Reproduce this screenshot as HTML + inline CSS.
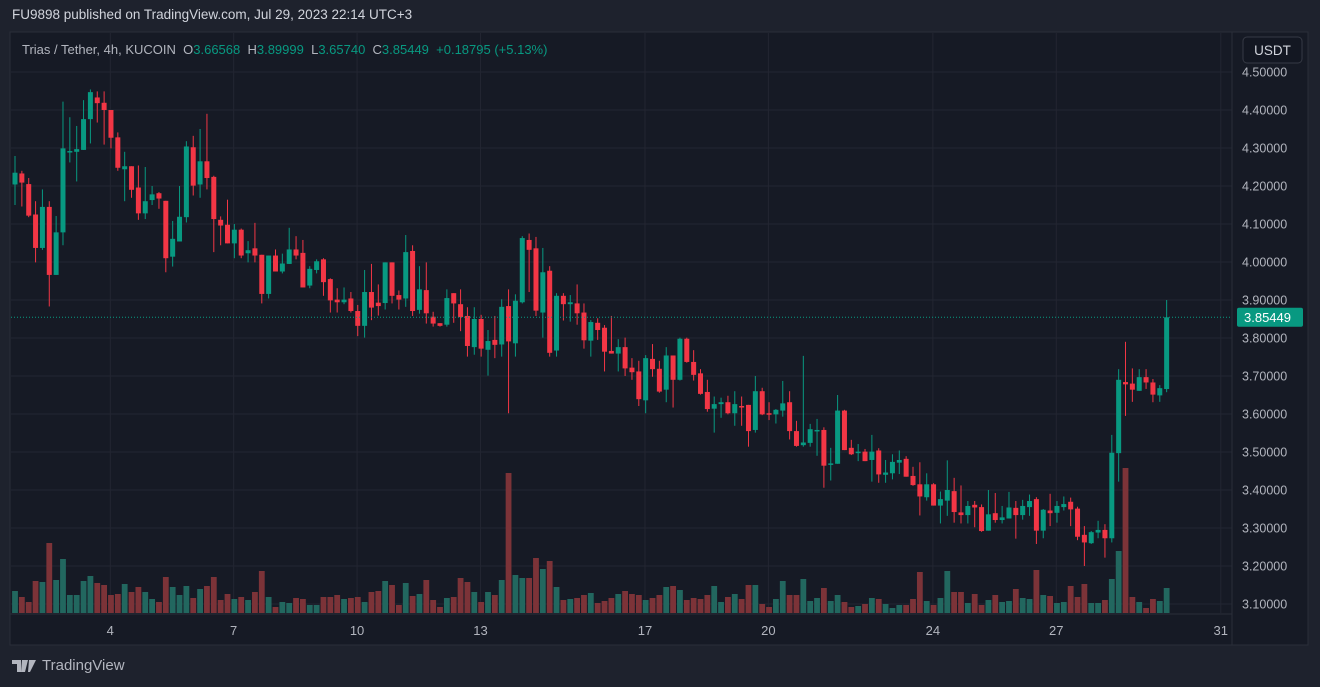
<!DOCTYPE html>
<html><head><meta charset="utf-8">
<style>
html,body{margin:0;padding:0;background:#1e222d;width:1320px;height:687px;overflow:hidden;font-family:"Liberation Sans",sans-serif;}
#hdr{position:absolute;left:12px;top:7px;color:#d1d4dc;font-size:13.5px;}
#logo{position:absolute;left:12px;top:657px;color:#b2b5be;font-size:15px;display:flex;align-items:center;gap:4px;}
svg{position:absolute;left:0;top:0;}
</style></head><body>
<div id="hdr">FU9898 published on TradingView.com, Jul 29, 2023 22:14 UTC+3</div>
<svg id="chart" width="1320" height="687"></svg>
<div id="logo"><svg width="26" height="14" style="position:static"><path d="M0 1h9v12H5V5H0z M10 1h6l-3 12h-4z M17 1h7l-6 12h-2z" fill="#b2b5be"/></svg><span>TradingView</span></div>
<script>
const opens=[4.204,4.233,4.205,4.125,4.037,4.145,3.966,4.078,4.290,4.290,4.295,4.376,4.433,4.419,4.400,4.328,4.244,4.252,4.196,4.128,4.163,4.181,4.161,4.014,4.054,4.118,4.302,4.204,4.265,4.224,4.111,4.098,4.049,4.085,4.023,
4.036,4.019,3.916,4.017,3.975,3.995,4.033,4.024,3.938,3.979,4.007,3.955,3.901,3.894,3.904,3.871,3.832,3.921,3.893,3.892,3.999,3.913,3.904,4.029,3.874,3.926,3.856,3.839,3.835,3.918,3.889,3.858,3.776,
3.850,3.769,3.795,3.783,3.884,3.786,3.894,4.058,4.036,3.867,3.977,3.767,3.911,3.889,3.891,3.867,3.793,3.840,3.827,3.766,3.759,3.776,3.722,3.712,3.636,3.745,3.719,3.664,3.754,3.690,3.798,3.737,3.707,3.658,
3.614,3.626,3.631,3.602,3.621,3.624,3.558,3.660,3.602,3.599,3.609,3.631,3.555,3.518,3.524,3.555,3.558,3.469,3.469,3.609,3.511,3.497,3.501,3.479,3.504,3.440,3.444,3.472,3.482,3.437,3.415,3.381,3.415,3.359,
3.372,3.397,3.341,3.334,3.361,3.355,3.293,3.339,3.321,3.325,3.353,3.334,3.355,3.376,3.293,3.346,3.340,3.355,3.369,3.351,3.282,3.260,3.288,3.295,3.273,3.497,3.684,3.680,3.661,3.697,3.683,3.649,3.66568];
const highs=[4.279,4.240,4.221,4.160,4.191,4.160,4.121,4.422,4.381,4.358,4.426,4.454,4.449,4.449,4.400,4.341,4.290,4.252,4.254,4.250,4.200,4.184,4.161,4.108,4.200,4.318,4.332,4.350,4.390,4.227,4.120,4.164,4.100,4.088,4.055,
4.103,4.019,4.017,4.033,4.022,4.090,4.068,4.058,3.989,4.007,4.010,3.957,3.931,3.933,3.921,3.887,3.979,3.995,3.941,3.999,3.999,3.925,4.071,4.044,3.989,3.999,3.869,3.839,3.928,3.918,3.928,3.881,3.881,
3.861,3.821,3.858,3.902,3.928,3.915,4.068,4.075,4.066,4.037,3.989,3.918,3.918,3.913,3.941,3.891,3.847,3.852,3.834,3.858,3.797,3.801,3.747,3.740,3.755,3.784,3.740,3.776,3.754,3.801,3.801,3.768,3.718,3.690,
3.646,3.643,3.648,3.660,3.646,3.624,3.700,3.669,3.631,3.613,3.687,3.660,3.582,3.753,3.574,3.587,3.565,3.511,3.650,3.611,3.532,3.521,3.508,3.545,3.510,3.479,3.494,3.504,3.489,3.461,3.473,3.444,3.418,3.396,
3.478,3.432,3.412,3.371,3.371,3.362,3.400,3.392,3.358,3.395,3.371,3.374,3.388,3.381,3.350,3.390,3.371,3.383,3.380,3.356,3.305,3.292,3.319,3.310,3.545,3.718,3.790,3.720,3.718,3.718,3.692,3.676,3.89999];
const lows=[4.150,4.146,4.118,3.999,4.032,3.883,3.966,4.044,4.262,4.212,4.295,4.312,4.367,4.309,4.299,4.240,4.160,4.169,4.111,4.113,4.150,4.140,3.973,3.988,4.054,4.104,4.175,4.169,4.191,4.026,4.044,4.049,4.010,4.010,3.999,
3.999,3.891,3.904,3.975,3.970,3.995,4.007,3.933,3.931,3.970,3.911,3.867,3.867,3.889,3.867,3.805,3.801,3.847,3.859,3.875,3.891,3.875,3.882,3.858,3.864,3.838,3.830,3.830,3.830,3.840,3.818,3.751,3.756,
3.751,3.701,3.747,3.751,3.602,3.751,3.891,3.921,3.858,3.801,3.751,3.751,3.846,3.843,3.835,3.772,3.751,3.795,3.712,3.759,3.712,3.700,3.690,3.621,3.602,3.698,3.656,3.631,3.617,3.688,3.735,3.688,3.651,3.606,
3.551,3.590,3.599,3.569,3.569,3.514,3.551,3.597,3.584,3.575,3.593,3.533,3.514,3.514,3.514,3.490,3.406,3.425,3.469,3.505,3.492,3.476,3.476,3.422,3.419,3.419,3.428,3.442,3.435,3.411,3.333,3.372,3.359,3.312,
3.332,3.314,3.312,3.312,3.302,3.290,3.293,3.314,3.312,3.325,3.272,3.322,3.332,3.258,3.273,3.305,3.314,3.346,3.305,3.268,3.200,3.258,3.273,3.222,3.262,3.422,3.595,3.632,3.661,3.666,3.631,3.632,3.6574];
const closes=[4.235,4.209,4.122,4.037,4.145,3.966,4.078,4.299,4.292,4.297,4.376,4.447,4.418,4.400,4.327,4.248,4.252,4.190,4.128,4.160,4.178,4.167,4.010,4.061,4.119,4.304,4.201,4.265,4.221,4.113,4.096,4.049,4.085,4.017,4.031,
4.017,3.916,4.017,3.975,3.996,4.033,4.017,3.933,3.982,4.002,3.947,3.899,3.894,3.901,3.871,3.832,3.921,3.880,3.884,3.999,3.911,3.901,4.026,3.871,3.928,3.865,3.838,3.832,3.905,3.891,3.855,3.779,3.850,
3.772,3.792,3.782,3.882,3.791,3.898,4.063,4.032,3.872,3.973,3.761,3.911,3.889,3.894,3.865,3.794,3.842,3.821,3.764,3.759,3.776,3.720,3.710,3.639,3.747,3.718,3.659,3.754,3.690,3.798,3.737,3.703,3.653,3.613,
3.626,3.631,3.602,3.626,3.617,3.555,3.660,3.599,3.599,3.611,3.628,3.555,3.516,3.525,3.560,3.558,3.464,3.470,3.609,3.505,3.494,3.501,3.476,3.501,3.441,3.446,3.474,3.479,3.435,3.413,3.383,3.415,3.359,3.376,
3.400,3.342,3.334,3.358,3.354,3.292,3.336,3.321,3.328,3.354,3.334,3.358,3.371,3.293,3.348,3.339,3.358,3.363,3.349,3.277,3.262,3.289,3.295,3.273,3.498,3.690,3.678,3.664,3.697,3.683,3.651,3.668,3.85449];
const volumes=[22,16,11,32,31,70,33,54,18,18,32,37,30,28,18,19,29,21,26,21,14,11,36,26,18,27,15,24,27,36,13,19,14,16,13,21,42,16,6,11,10,15,14,8,8,16,16,18,14,15,16,11,21,22,32,28,8,
30,17,19,33,13,6,15,16,35,31,21,11,21,18,33,140,38,35,35,55,44,52,26,13,14,15,18,20,10,12,15,19,22,19,18,13,15,18,26,27,23,13,15,14,18,27,11,16,19,14,28,28,9,6,14,32,18,
18,34,12,15,25,12,18,11,6,7,9,15,14,9,5,8,8,14,41,12,8,15,42,21,21,10,19,8,13,18,11,12,24,15,14,43,18,17,10,11,27,16,29,10,10,13,34,62,145,16,11,5,14,12,25];
const priceTicks=[4.5,4.4,4.3,4.2,4.1,4.0,3.9,3.8,3.7,3.6,3.5,3.4,3.3,3.2,3.1];
const dayLabels=["4","7","10","13","17","20","24","27","31"];
const dayIndex=[13.9,31.9,49.9,67.9,91.9,109.9,133.9,151.9,175.9];

const NS="http://www.w3.org/2000/svg";
const svg=document.getElementById('chart');
const PL=11,PR=1232,PT=33,PB=613;
const x=i=>15+i*6.855;
const y=p=>72+(4.5-p)*380;
const vy=v=>PB-v;
function mk(tag,attrs,parent){const e=document.createElementNS(NS,tag);for(const k in attrs)e.setAttribute(k,attrs[k]);(parent||svg).appendChild(e);return e;}

let e=mk('rect',{x:10,y:32,width:1298,height:613,fill:'#161a25',stroke:'#2a2e39'});


const grid=mk('g',{});


priceTicks.forEach(p=>{mk('line',{x1:PL,x2:PR,y1:y(p),y2:y(p),stroke:'#232632'},grid);});
dayIndex.forEach(d=>{mk('line',{x1:x(d),x2:x(d),y1:PT,y2:PB,stroke:'#232632'},grid);});
e=mk('line',{x1:PR,x2:PR,y1:32,y2:645,stroke:'#2a2e39'});


e=mk('line',{x1:10,x2:PR,y1:PB+1,y2:PB+1,stroke:'#2a2e39'});



const vol=mk('g',{});


volumes.forEach((v,i)=>{
  const up=closes[i]>=opens[i];
  const r=mk('rect',{x:x(i)-2.9,y:vy(v),width:5.8,height:v,fill:up?'#22675f':'#7c3338'},vol);
  
  
});

const cg=mk('g',{});


opens.forEach((o,i)=>{
  const c=closes[i],up=c>=o,col=up?'#089981':'#f23645';
  const g=mk('g',{},cg);
  
  
  mk('line',{x1:x(i),x2:x(i),y1:y(highs[i]),y2:y(lows[i]),stroke:col,'stroke-width':1},g);
  const t=y(Math.max(o,c)),b=y(Math.min(o,c));
  mk('rect',{x:x(i)-2.5,y:t,width:5,height:Math.max(1.5,b-t),fill:col},g);
});

const last=closes[closes.length-1];
e=mk('line',{x1:PL,x2:PR,y1:y(last),y2:y(last),stroke:'#089981','stroke-dasharray':'1 2'});



const ax=mk('g',{'font-size':'12.5','fill':'#b2b5be','font-family':'Liberation Sans, sans-serif'});


priceTicks.forEach(p=>{const t=mk('text',{x:1242,y:y(p)+4.5},ax);t.textContent=p.toFixed(5);

});
e=mk('rect',{x:1237,y:y(last)-9.5,width:66,height:19,rx:2,fill:'#089981'});


e=mk('text',{x:1244,y:y(last)+4.5,'font-size':'13',fill:'#ffffff','font-family':'Liberation Sans, sans-serif'});
e.textContent=last.toFixed(5);



const tx=mk('g',{'font-size':'13','fill':'#b2b5be','font-family':'Liberation Sans, sans-serif','text-anchor':'middle'});


dayLabels.forEach((d,k)=>{const t=mk('text',{x:x(dayIndex[k]),y:635},tx);t.textContent=d;

});

e=mk('rect',{x:1243,y:37,width:59,height:26,rx:4,fill:'#131722',stroke:'#363a45'});


e=mk('text',{x:1272.5,y:55,'font-size':'13.5',fill:'#d1d4dc','text-anchor':'middle','font-family':'Liberation Sans, sans-serif'});
e.textContent='USDT';



const lg=mk('text',{x:22,y:54,'font-size':'13','font-family':'Liberation Sans, sans-serif',fill:'#b2b5be'});


const parts=[['Trias / Tether, 4h, KUCOIN  ','#b2b5be'],['O','#b2b5be'],['3.66568  ','#089981'],['H','#b2b5be'],['3.89999  ','#089981'],['L','#b2b5be'],['3.65740  ','#089981'],['C','#b2b5be'],['3.85449  ','#089981'],['+0.18795 (+5.13%)','#089981']];
parts.forEach(([s,c])=>{const t=mk('tspan',{fill:c},lg);t.setAttribute('xml:space','preserve');t.style.whiteSpace='pre';t.textContent=s;});
</script>
</body></html>
